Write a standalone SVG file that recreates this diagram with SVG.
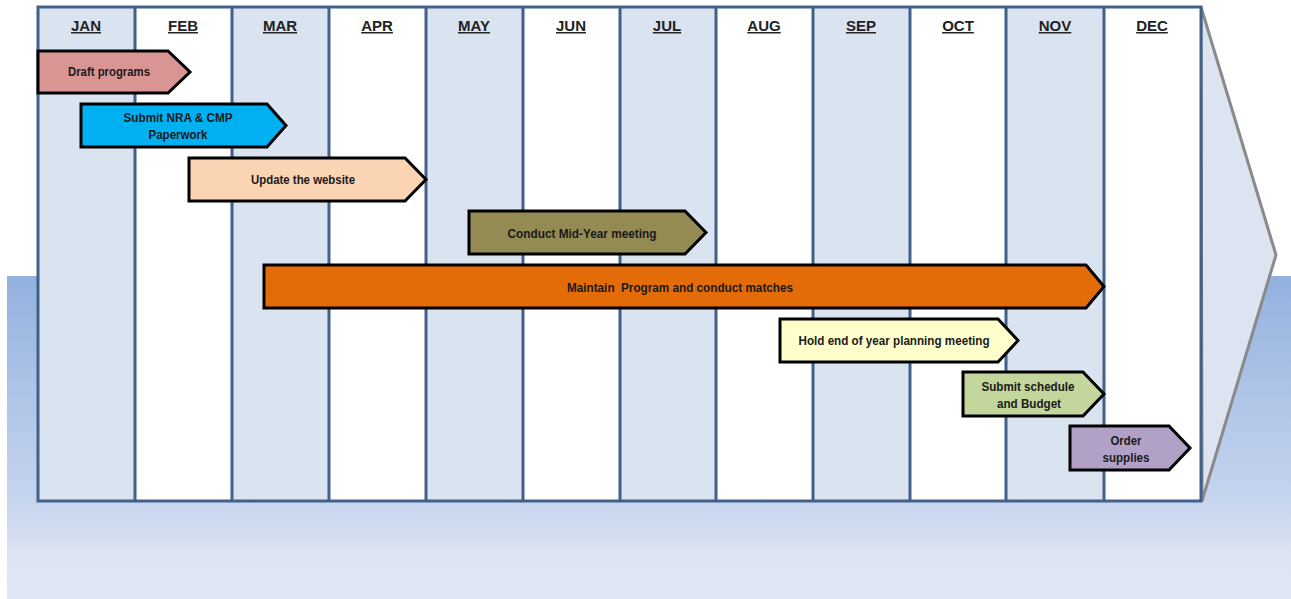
<svg xmlns="http://www.w3.org/2000/svg" width="1291" height="599" viewBox="0 0 1291 599">
<defs>
<linearGradient id="bg" x1="0" y1="0" x2="0" y2="1">
<stop offset="0" stop-color="#93b1df"/>
<stop offset="0.7" stop-color="#c7d5ee"/>
<stop offset="0.85" stop-color="#dbe3f3"/>
<stop offset="1" stop-color="#e0e7f4"/>
</linearGradient>
</defs>
<style>
.col{stroke:none}
.alt{fill:#dae3f0}
.wht{fill:#ffffff}
.grid{fill:none;stroke:#41608a;stroke-width:3}
.mon{font-family:"Liberation Sans",Arial,sans-serif;font-weight:bold;font-size:15px;fill:#222;text-anchor:middle;text-decoration:underline}
.bar{stroke:#000;stroke-width:3;stroke-linejoin:miter}
.lbl{font-family:"Liberation Sans",Arial,sans-serif;font-weight:bold;font-size:12px;fill:#1a1a1a;text-anchor:middle}
</style>
<rect x="7" y="276" width="1284" height="323" fill="url(#bg)"/>
<g id="chevron">
<path d="M1201 7 L1276 255 L1202 501 Z" fill="#dbe4f0" stroke="#8a8a8a" stroke-width="3"/>
</g>
<g id="grid">
<rect class="alt" x="38" y="7" width="97" height="494"/>
<rect class="wht" x="135" y="7" width="97" height="494"/>
<rect class="alt" x="232" y="7" width="97" height="494"/>
<rect class="wht" x="329" y="7" width="97" height="494"/>
<rect class="alt" x="426" y="7" width="97" height="494"/>
<rect class="wht" x="523" y="7" width="97" height="494"/>
<rect class="alt" x="620" y="7" width="96" height="494"/>
<rect class="wht" x="716" y="7" width="97" height="494"/>
<rect class="alt" x="813" y="7" width="97" height="494"/>
<rect class="wht" x="910" y="7" width="96" height="494"/>
<rect class="alt" x="1006" y="7" width="98" height="494"/>
<rect class="wht" x="1104" y="7" width="97" height="494"/>
<rect class="grid" x="38" y="7" width="1163" height="494"/>
<path class="grid" d="M135 7V501M232 7V501M329 7V501M426 7V501M523 7V501M620 7V501M716 7V501M813 7V501M910 7V501M1006 7V501M1104 7V501"/>
</g>
<g id="months">
<text class="mon" x="86" y="31">JAN</text>
<text class="mon" x="183" y="31">FEB</text>
<text class="mon" x="280" y="31">MAR</text>
<text class="mon" x="377" y="31">APR</text>
<text class="mon" x="474" y="31">MAY</text>
<text class="mon" x="571" y="31">JUN</text>
<text class="mon" x="667" y="31">JUL</text>
<text class="mon" x="764" y="31">AUG</text>
<text class="mon" x="861" y="31">SEP</text>
<text class="mon" x="958" y="31">OCT</text>
<text class="mon" x="1055" y="31">NOV</text>
<text class="mon" x="1152" y="31">DEC</text>
</g>
<g id="task-draft">
<path class="bar" fill="#d99594" d="M38 51H168L190 72L168 93H38Z"/>
<text class="lbl" x="109" y="76" textLength="82" lengthAdjust="spacingAndGlyphs">Draft programs</text>
</g>
<g id="task-submit-nra">
<path class="bar" fill="#00b0f0" d="M81 104H267L286 125.5L267 147H81Z"/>
<text class="lbl" x="178" y="122" textLength="109" lengthAdjust="spacingAndGlyphs">Submit NRA &amp; CMP</text>
<text class="lbl" x="178" y="139" textLength="59" lengthAdjust="spacingAndGlyphs">Paperwork</text>
</g>
<g id="task-website">
<path class="bar" fill="#fbd4b4" d="M189 158H405L426 179.5L405 201H189Z"/>
<text class="lbl" x="303" y="184" textLength="104" lengthAdjust="spacingAndGlyphs">Update the website</text>
</g>
<g id="task-midyear">
<path class="bar" fill="#948a54" d="M469 211H685L706 232.5L685 254H469Z"/>
<text class="lbl" x="582" y="238" textLength="149" lengthAdjust="spacingAndGlyphs">Conduct Mid-Year meeting</text>
</g>
<g id="task-maintain">
<path class="bar" fill="#e36c09" d="M264 265H1086L1104 286.5L1086 308H264Z"/>
<text class="lbl" x="680" y="292" textLength="226" lengthAdjust="spacingAndGlyphs" fill="#2a1200" xml:space="preserve">Maintain  Program and conduct matches</text>
</g>
<g id="task-planning">
<path class="bar" fill="#ffffcc" d="M780 319H998L1018 340.5L998 362H780Z"/>
<text class="lbl" x="894" y="345" textLength="191" lengthAdjust="spacingAndGlyphs">Hold end of year planning meeting</text>
</g>
<g id="task-budget">
<path class="bar" fill="#c3d69b" d="M963 372H1083L1104 394L1083 416H963Z"/>
<text class="lbl" x="1028" y="391" textLength="93" lengthAdjust="spacingAndGlyphs">Submit schedule</text>
<text class="lbl" x="1029" y="408" textLength="64" lengthAdjust="spacingAndGlyphs">and Budget</text>
</g>
<g id="task-supplies">
<path class="bar" fill="#b2a1c7" d="M1070 426H1169L1190 448L1169 470H1070Z"/>
<text class="lbl" x="1126" y="445" textLength="31" lengthAdjust="spacingAndGlyphs">Order</text>
<text class="lbl" x="1126" y="462" textLength="47" lengthAdjust="spacingAndGlyphs">supplies</text>
</g>
</svg>
